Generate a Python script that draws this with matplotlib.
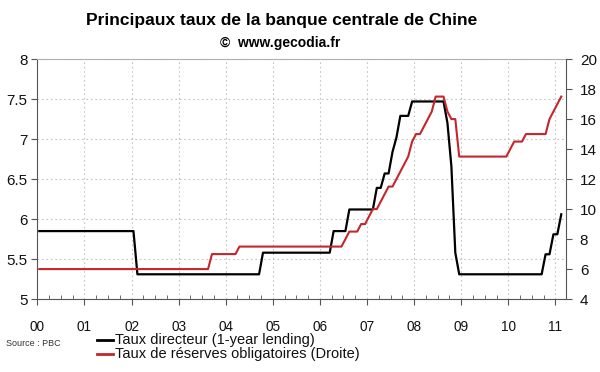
import matplotlib
matplotlib.use("Agg")
import matplotlib.pyplot as plt
from matplotlib.ticker import MultipleLocator, FixedLocator
import numpy as np

plt.rcParams['font.family'] = ['Liberation Sans', 'DejaVu Sans']

# Monthly data Jan 2000 .. Feb 2011 (value at month end), plotted mid-month
start_year = 2000
taux_directeur = (
    [5.85] * 25 +            # Jan 2000 - Jan 2002
    [5.31] * 32 +            # Feb 2002 - Sep 2004
    [5.58] * 18 +            # Oct 2004 - Mar 2006
    [5.85] * 4 +             # Apr 2006 - Jul 2006
    [6.12] * 7 +             # Aug 2006 - Feb 2007
    [6.39, 6.39, 6.57, 6.57, 6.84, 7.02, 7.29, 7.29, 7.29, 7.47] +  # Mar - Dec 2007
    [7.47] * 8 +             # Jan - Aug 2008
    [7.20, 6.66, 5.58, 5.31] +  # Sep - Dec 2008
    [5.31] * 21 +            # Jan 2009 - Sep 2010
    [5.56, 5.56, 5.81, 5.81, 6.06]  # Oct 2010 - Feb 2011
)
taux_reserves = (
    [6.0] * 44 +             # Jan 2000 - Aug 2003
    [7.0] * 7 +              # Sep 2003 - Mar 2004
    [7.5] * 27 +             # Apr 2004 - Jun 2006
    [8.0, 8.5, 8.5, 8.5, 9.0, 9.0] +  # Jul - Dec 2006
    [9.5, 10.0, 10.0, 10.5, 11.0, 11.5, 11.5, 12.0, 12.5, 13.0, 13.5, 14.5] +  # 2007
    [15.0, 15.0, 15.5, 16.0, 16.5, 17.5, 17.5, 17.5, 16.5, 16.0, 16.0, 13.5] +  # 2008
    [13.5] * 12 +            # 2009
    [14.0, 14.5, 14.5, 14.5, 15.0, 15.0, 15.0, 15.0, 15.0, 15.0, 16.0, 16.5] +  # 2010
    [17.0, 17.5]             # Jan - Feb 2011
)
year_labels = ['00', '01', '02', '03', '04', '05', '06', '07', '08', '09', '10', '11']
left_labels = ['5', '5.5', '6', '6.5', '7', '7.5', '8']

x = start_year + (np.arange(len(taux_directeur)) + 0.5) / 12.0

fig = plt.figure(figsize=(6.0, 3.72), dpi=100)
ax = fig.add_axes([0.0622, 0.196, 0.8811, 0.6452])
ax2 = ax.twinx()

red = '#c3262b'
ax.plot(x, taux_directeur, color='black', lw=1.6, zorder=3)
ax2.plot(x, taux_reserves, color=red, lw=1.5, zorder=3)

ax.set_xlim(2000, 2011.225)
ax.set_ylim(5, 8)
ax2.set_ylim(4, 20)

ax.xaxis.set_major_locator(FixedLocator(np.arange(2000, 2012)))
ax.set_xticklabels(year_labels)
ax.xaxis.set_minor_locator(MultipleLocator(0.25))
ax.set_yticks(np.arange(5, 8.01, 0.5))
ax.set_yticklabels(left_labels)
ax2.yaxis.set_major_locator(MultipleLocator(2))

ax.grid(True, which='major', axis='both', color='#c4c4c4', linestyle=(0, (1.5, 2.5)), lw=0.8)
ax.set_axisbelow(True)

spine_col = '#555555'
for s in ['left', 'bottom']:
    ax.spines[s].set_color(spine_col)
ax.spines['top'].set_color('#b0b0b0')
ax.spines['right'].set_visible(False)
for s in ['left', 'bottom', 'top']:
    ax2.spines[s].set_visible(False)
ax2.spines['right'].set_color(spine_col)

ax.tick_params(axis='x', which='major', direction='out', length=4, color=spine_col,
               labelsize=9.8, pad=11, labelcolor='#111111')
ax.tick_params(axis='x', which='minor', direction='in', length=3, color=spine_col)
ax.tick_params(axis='y', direction='out', length=4, color=spine_col, labelsize=11,
               labelcolor='#111111', pad=3)
ax2.tick_params(axis='y', direction='out', length=4, color=spine_col, labelsize=11,
                labelcolor='#111111', pad=6)

fig.text(0.47, 0.944, 'Principaux taux de la banque centrale de Chine',
         ha='center', va='center', fontsize=12.5, fontweight='bold')
fig.text(0.467, 0.884, '\u00a9  www.gecodia.fr', ha='center', va='center',
         fontsize=10, fontweight='bold')
fig.text(0.01, 0.076, 'Source : PBC', ha='left', va='center', fontsize=6.5, color='#333333')

leg_items = [('Taux directeur (1-year lending)', 'black', 0.085),
             ('Taux de r\u00e9serves obligatoires (Droite)', red, 0.049)]
for label, col, yy in leg_items:
    fig.add_artist(plt.Line2D([0.162, 0.188], [yy, yy], color=col, lw=2, transform=fig.transFigure))
    fig.text(0.191, yy, label, ha='left', va='center', fontsize=10.5, color='#111111')

fig.savefig('out.png', dpi=100)
